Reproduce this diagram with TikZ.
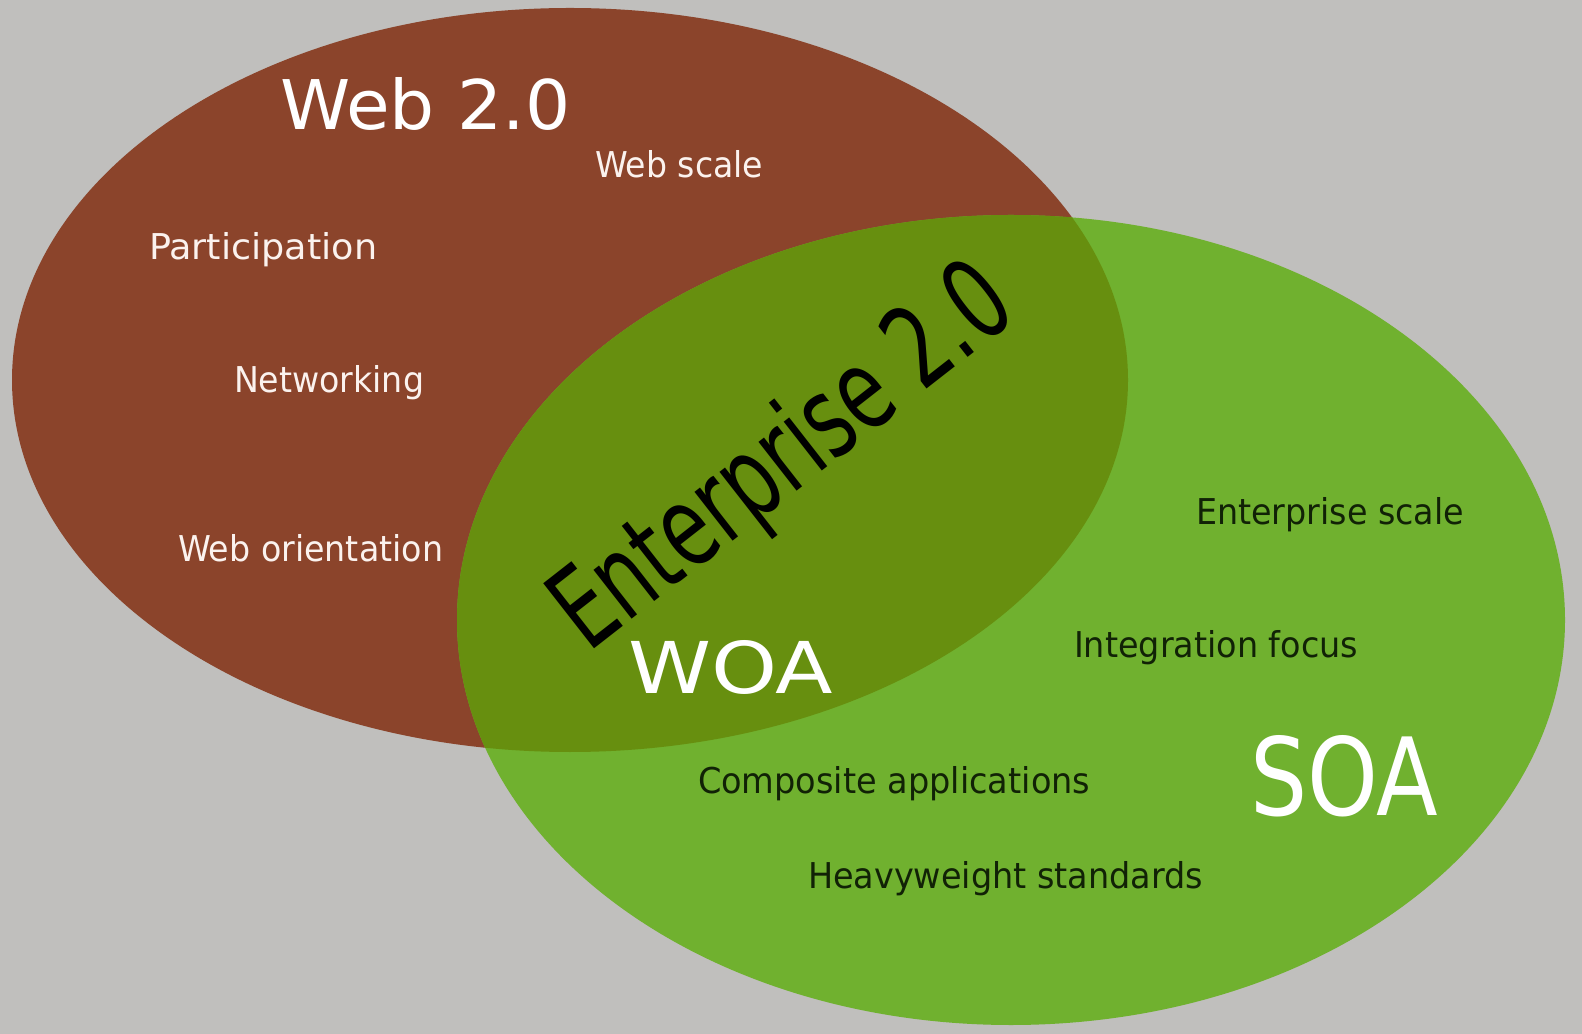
\documentclass[tikz,border=0pt]{standalone}
\usepackage{fontspec}
\setmainfont{DejaVu Sans}
\usepackage{graphicx}
\definecolor{bgray}{HTML}{C0BFBD}
\definecolor{webbrown}{HTML}{8B442B}
\definecolor{soagreen}{HTML}{70B12F}
\definecolor{overlapgreen}{HTML}{678F0F}
\definecolor{webwhite}{HTML}{FBF2EE}
\definecolor{darktxt}{HTML}{112206}
\newdimen\pxu \pxu=0.1mm
\newcommand\fitbox[3]{\resizebox{#1\pxu}{#2\pxu}{#3}}
\begin{document}
\begin{tikzpicture}[x=0.01cm,y=-0.01cm,
  lbl/.style={inner sep=0pt, outer sep=0pt, anchor=base west},
  webtxt/.style={lbl, text=webwhite},
  soatxt/.style={lbl, text=darktxt},
  bigtxt/.style={lbl, text=white}]
\fill[bgray] (0,0) rectangle (1582,1034);
\useasboundingbox (0,0) rectangle (1582,1034);
% ellipses
\fill[webbrown] (570,380) ellipse [x radius=558, y radius=372];
\fill[soagreen] (1011,620) ellipse [x radius=554, y radius=405];
\begin{scope}
  \clip (570,380) ellipse [x radius=558, y radius=372];
  \fill[overlapgreen] (1011,620) ellipse [x radius=554, y radius=405];
\end{scope}
% Web 2.0 labels
\node[bigtxt] (web) at (280,130) {\fitbox{290}{52}{Web 2.0}};
\node[webtxt] (wscale) at (595,178) {\fitbox{168}{27}{Web scale}};
\node[webtxt] (part) at (149,260) {\fitbox{228}{27}{Participation}};
\node[webtxt] (net) at (234,393) {\fitbox{190}{27}{Networking}};
\node[webtxt] (worient) at (178,562) {\fitbox{265}{27}{Web orientation}};
% SOA labels
\node[soatxt] (escale) at (1196,525) {\fitbox{268}{27}{Enterprise scale}};
\node[soatxt] (integ) at (1074,658) {\fitbox{284}{27}{Integration focus}};
\node[soatxt] (comp) at (698,793) {\fitbox{392}{27}{Composite applications}};
\node[soatxt] (heavy) at (808,888) {\fitbox{395}{27}{Heavyweight standards}};
\node[bigtxt] (soa) at (1250,815) {\fitbox{188}{80}{SOA}};
% overlap labels
\node[bigtxt] (woa) at (628,694) {\fitbox{205}{53}{WOA}};
\node[lbl, text=black, rotate=38] (ent) at (588,654) {\fitbox{548}{86}{Enterprise 2.0}};
\end{tikzpicture}
\end{document}
